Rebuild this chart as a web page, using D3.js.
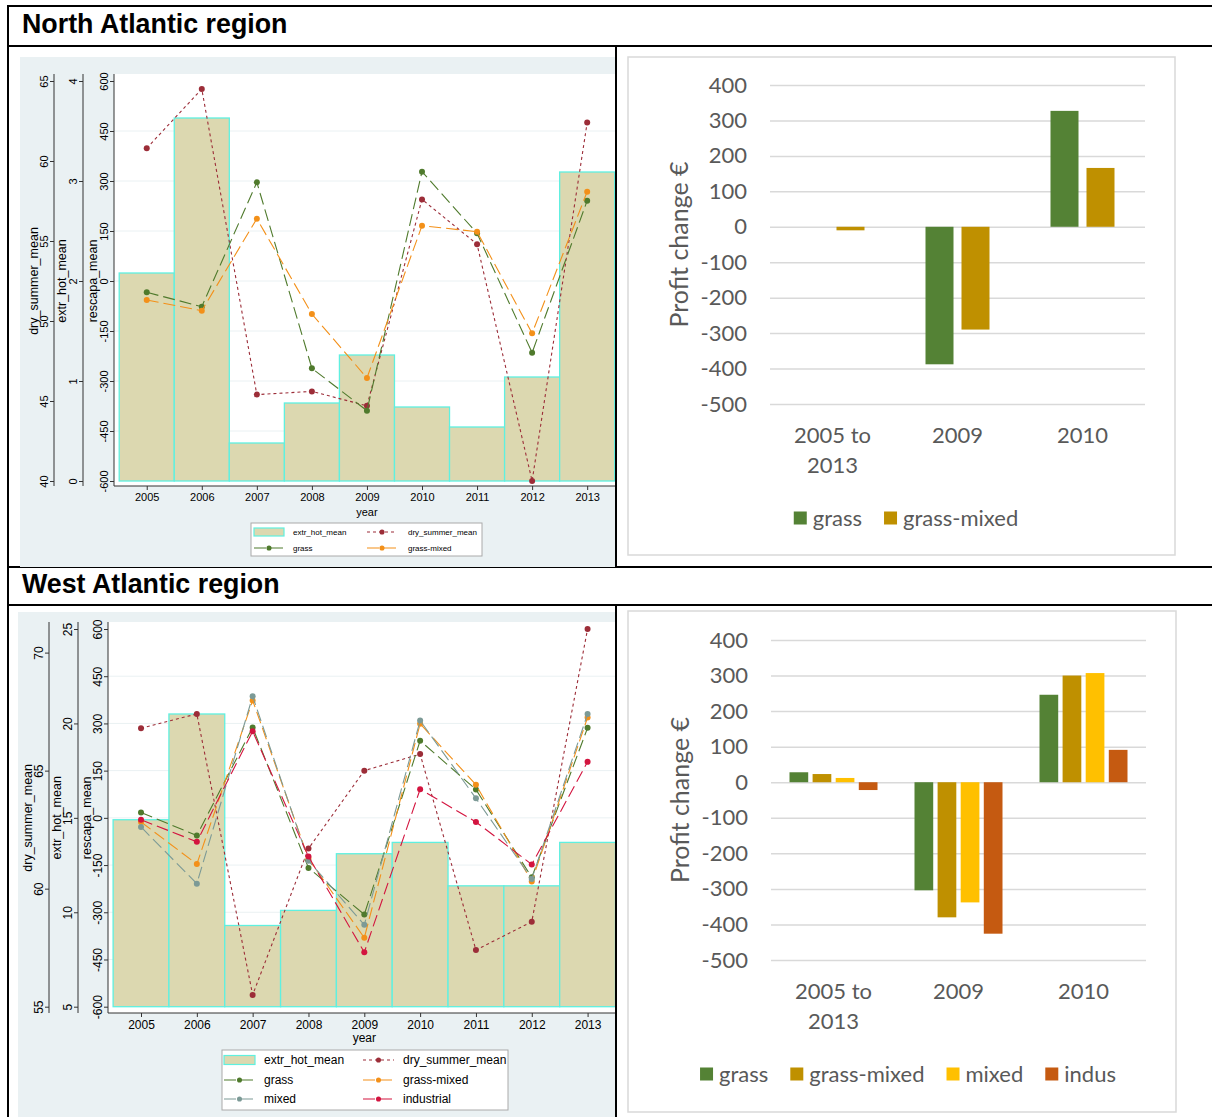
<!DOCTYPE html>
<html>
<head>
<meta charset="utf-8">
<script src="https://cdn.jsdelivr.net/npm/d3@7"></script>
<style>
  body { margin: 0; background: #fff; }
  svg { display: block; }
</style>
</head>
<body>
<svg id="chart" width="1212" height="1117"></svg>
<script>
// ---------- data ----------
const years = [2005, 2006, 2007, 2008, 2009, 2010, 2011, 2012, 2013];

// North Atlantic region
const naExtrHot    = [2.08, 3.63, 0.38, 0.78, 1.26, 0.74, 0.54, 1.04, 3.09];
const naDrySummer  = [60.8, 64.5, 45.4, 45.6, 44.7, 57.6, 54.8, 40.0, 62.4];
const naGrass      = [-34, -77, 296, -262, -389, 328, 143, -215, 241];
const naGrassMixed = [-57, -89, 187, -99, -291, 166, 148, -157, 268];

// West Atlantic region
const waExtrHot    = [14.9, 20.5, 9.3, 10.1, 13.1, 13.7, 11.4, 11.4, 13.7];
const waDrySummer  = [66.8, 67.4, 55.5, 61.7, 65.0, 65.7, 57.4, 58.6, 71.0];
const waGrass      = [17, -56, 287, -159, -307, 245, 90, -189, 286];
const waGrassMixed = [-13, -147, 373, -130, -381, 299, 105, -202, 319];
const waMixed      = [-29, -209, 386, -136, -340, 309, 62, -194, 330];
const waIndustrial = [-6, -76, 275, -123, -427, 91, -13, -148, 178];

// profit change per period
const periods = ["2005 to 2013", "2009", "2010"];
const naProfitGrass      = [0, -388, 327];
const naProfitGrassMixed = [-10, -290, 166];
const waProfitGrass      = [28, -304, 246];
const waProfitGrassMixed = [23, -380, 300];
const waProfitMixed      = [12, -338, 307];
const waProfitIndus      = [-22, -426, 91];

// tick values
const rescapaTicks = [-600, -450, -300, -150, 0, 150, 300, 450, 600];
const naExtrTicks  = [0, 1, 2, 3, 4];
const naDryTicks   = [40, 45, 50, 55, 60, 65];
const waExtrTicks  = [5, 10, 15, 20, 25];
const waDryTicks   = [55, 60, 65, 70];
const profitTicks  = [-500, -400, -300, -200, -100, 0, 100, 200, 300, 400];

// ---------- styles ----------
const stataFont = "'Liberation Sans', Arial, sans-serif";
const excelFont = "Lato, 'Open Sans', sans-serif";
const col = {
  bg: "#eaf1f3", barFill: "#dcd8b0", barEdge: "#5ff0e0",
  dry: "#9c2d38", grass: "#4f7a2c", grassMixed: "#f39019",
  mixed: "#7c9a96", industrial: "#d3143f"
};
const longDash = "12 5", shortDash = "3 3";
const plain = d => String(d);   // hyphen-minus for negative labels

const svg = d3.select("#chart");

// ---------- table frame ----------
function drawFrame() {
  const f = svg.append("g").attr("stroke", "#000").attr("stroke-width", 2);
  [[7, 6, 1212, 6], [7, 46, 1212, 46], [7, 567, 1212, 567], [7, 605, 1212, 605],
   [8, 6, 8, 1117], [616, 46, 616, 567], [616, 605, 616, 1117]]
    .forEach(([x1, y1, x2, y2]) => f.append("line").attr("x1", x1).attr("y1", y1).attr("x2", x2).attr("y2", y2));
  svg.append("text").attr("x", 22).attr("y", 33).attr("font-family", stataFont)
    .attr("font-weight", "bold").attr("font-size", 26.8).attr("fill", "#000").text("North Atlantic region");
  svg.append("text").attr("x", 22).attr("y", 593).attr("font-family", stataFont)
    .attr("font-weight", "bold").attr("font-size", 26.8).attr("fill", "#000").text("West Atlantic region");
}

// ---------- combined climate / profit panel ----------
function drawStata(cfg) {
  const clipId = cfg.id + "-clip";
  svg.append("clipPath").attr("id", clipId).append("rect")
    .attr("x", cfg.bg[0]).attr("y", cfg.bg[1])
    .attr("width", cfg.bg[2] - cfg.bg[0]).attr("height", cfg.bg[3] - cfg.bg[1]);
  const g = svg.append("g").attr("clip-path", `url(#${clipId})`);

  g.append("rect").attr("x", cfg.bg[0]).attr("y", cfg.bg[1])
    .attr("width", cfg.bg[2] - cfg.bg[0]).attr("height", cfg.bg[3] - cfg.bg[1]).attr("fill", col.bg);
  g.append("rect").attr("x", cfg.plot.left).attr("y", cfg.plot.top)
    .attr("width", cfg.bg[2] - cfg.plot.left).attr("height", cfg.plot.bottom - cfg.plot.top).attr("fill", "#fff");

  const x = d3.scaleLinear().domain([2004.5, 2013.5]).range(cfg.xRange);
  const yR = d3.scaleLinear().domain([-600, 600]).range(cfg.yRange);
  const yE = d3.scaleLinear().domain(cfg.extrDomain).range(cfg.yRange);
  const yD = d3.scaleLinear().domain(cfg.dryDomain).range(cfg.yRange);

  // gridlines on the rescapa axis
  g.append("g").selectAll("line").data(rescapaTicks.slice(1, -1)).join("line")
    .attr("x1", cfg.plot.left).attr("x2", cfg.bg[2])
    .attr("y1", d => yR(d)).attr("y2", d => yR(d))
    .attr("stroke", col.bg).attr("stroke-width", 1);

  // extr_hot_mean bars
  g.append("g").selectAll("rect").data(years).join("rect")
    .attr("x", d => x(d - 0.5)).attr("width", d => x(d + 0.5) - x(d - 0.5))
    .attr("y", (d, i) => yE(cfg.bars[i]))
    .attr("height", (d, i) => yE(cfg.extrDomain[0]) - yE(cfg.bars[i]))
    .attr("fill", col.barFill).attr("stroke", col.barEdge).attr("stroke-width", 1.3);

  // dry_summer_mean line, then the profit series
  const series = [{ values: cfg.dry, scale: yD, color: col.dry, dash: shortDash }]
    .concat(cfg.lines.map(l => ({ values: l.values, scale: yR, color: l.color, dash: longDash })));
  series.forEach(s => {
    const pts = years.map((yr, i) => [x(yr), s.scale(s.values[i])]);
    g.append("path").attr("d", d3.line()(pts)).attr("fill", "none")
      .attr("stroke", s.color).attr("stroke-width", 1.1).attr("stroke-dasharray", s.dash);
    g.append("g").selectAll("circle").data(pts).join("circle")
      .attr("cx", d => d[0]).attr("cy", d => d[1]).attr("r", cfg.markerR).attr("fill", s.color);
  });

  // y axes: dry_summer_mean, extr_hot_mean, rescapa_mean
  const axes = [
    { x: cfg.axisX.dry, scale: yD, ticks: cfg.dryTicks, title: "dry_summer_mean", titleX: cfg.titleX.dry },
    { x: cfg.axisX.extr, scale: yE, ticks: cfg.extrTicks, title: "extr_hot_mean", titleX: cfg.titleX.extr },
    { x: cfg.axisX.rescapa, scale: yR, ticks: rescapaTicks, title: "rescapa_mean", titleX: cfg.titleX.rescapa }
  ];
  const midY = (cfg.yRange[0] + cfg.yRange[1]) / 2;
  axes.forEach(a => {
    const ag = g.append("g").attr("transform", `translate(${a.x},0)`)
      .call(d3.axisLeft(a.scale).tickValues(a.ticks).tickSize(4).tickSizeOuter(0).tickFormat(plain));
    ag.select(".domain").remove();
    ag.selectAll(".tick line").attr("stroke", "#333");
    ag.selectAll(".tick text")
      .attr("x", null).attr("dy", null).attr("text-anchor", "middle")
      .attr("transform", "translate(-6,0) rotate(-90)")
      .attr("font-family", stataFont).attr("font-size", cfg.tickFont).attr("fill", "#000");
    ag.append("line").attr("x1", 0).attr("x2", 0).attr("y1", cfg.plot.top).attr("y2", cfg.plot.bottom)
      .attr("stroke", "#333").attr("stroke-width", 1);
    g.append("text").attr("transform", `translate(${a.titleX},${midY}) rotate(-90)`)
      .attr("text-anchor", "middle").attr("font-family", stataFont).attr("font-size", cfg.titleFont)
      .attr("fill", "#000").text(a.title);
  });

  // x axis
  const xg = g.append("g").attr("transform", `translate(0,${cfg.plot.bottom})`)
    .call(d3.axisBottom(x).tickValues(years).tickSize(4).tickSizeOuter(0).tickFormat(plain));
  xg.select(".domain").remove();
  xg.selectAll(".tick line").attr("stroke", "#333");
  xg.selectAll(".tick text").attr("font-family", stataFont).attr("font-size", cfg.tickFont).attr("fill", "#000");
  xg.append("line").attr("x1", cfg.plot.left).attr("x2", cfg.bg[2]).attr("stroke", "#333").attr("stroke-width", 1);
  g.append("text").attr("x", x(2009)).attr("y", cfg.yearY).attr("text-anchor", "middle")
    .attr("font-family", stataFont).attr("font-size", cfg.tickFont).attr("fill", "#000").text("year");

  // legend
  const L = cfg.legend;
  const lg = g.append("g");
  lg.append("rect").attr("x", L.box[0]).attr("y", L.box[1]).attr("width", L.box[2] - L.box[0])
    .attr("height", L.box[3] - L.box[1]).attr("fill", "#fff").attr("stroke", "#aaa").attr("stroke-width", 1);
  const entries = [{ name: "extr_hot_mean", bar: true }, { name: "dry_summer_mean", color: col.dry, dash: shortDash }]
    .concat(cfg.lines.map(l => ({ name: l.name, color: l.color, dash: longDash })));
  entries.forEach((e, i) => {
    const c = i % 2, r = Math.floor(i / 2);
    const cy = L.rows[r], sx = L.swatchX[c];
    if (e.bar) {
      lg.append("rect").attr("x", sx).attr("y", cy - L.swH / 2).attr("width", L.swW).attr("height", L.swH)
        .attr("fill", col.barFill).attr("stroke", col.barEdge).attr("stroke-width", 1.2);
    } else {
      lg.append("line").attr("x1", sx).attr("x2", sx + L.swW).attr("y1", cy).attr("y2", cy)
        .attr("stroke", e.color).attr("stroke-width", 1.1).attr("stroke-dasharray", e.dash);
      lg.append("circle").attr("cx", sx + L.swW / 2).attr("cy", cy).attr("r", cfg.markerR * 0.85).attr("fill", e.color);
    }
    lg.append("text").attr("x", L.textX[c]).attr("y", cy).attr("dy", "0.35em")
      .attr("font-family", stataFont).attr("font-size", L.font).attr("fill", "#000").text(e.name);
  });
}

// ---------- profit change bar panel ----------
function drawProfit(cfg) {
  const g = svg.append("g");
  g.append("rect").attr("x", cfg.panel[0]).attr("y", cfg.panel[1])
    .attr("width", cfg.panel[2] - cfg.panel[0]).attr("height", cfg.panel[3] - cfg.panel[1])
    .attr("fill", "#fff").attr("stroke", "#d9d9d9").attr("stroke-width", 1.5);

  const y = d3.scaleLinear().domain([-500, 400]).range(cfg.yRange);
  const x0 = d3.scaleBand().domain(periods).range(cfg.xRange);
  const x1 = d3.scaleBand().domain(cfg.series.map(s => s.name))
    .range([-cfg.groupW / 2, cfg.groupW / 2]).paddingInner(cfg.innerPad);

  const ag = g.append("g").attr("transform", `translate(${cfg.xRange[0]},0)`)
    .call(d3.axisLeft(y).tickValues(profitTicks).tickFormat(plain)
      .tickSize(-(cfg.xRange[1] - cfg.xRange[0])).tickPadding(23).tickSizeOuter(0));
  ag.select(".domain").remove();
  ag.selectAll(".tick line").attr("stroke", "#d9d9d9").attr("stroke-width", 1.5);
  ag.selectAll(".tick text").attr("font-family", excelFont).attr("font-size", 22).attr("fill", "#595959");

  cfg.series.forEach(s => {
    g.append("g").selectAll("rect").data(periods).join("rect")
      .attr("x", d => x0(d) + x0.bandwidth() / 2 + x1(s.name))
      .attr("width", x1.bandwidth())
      .attr("y", (d, i) => y(Math.max(0, s.values[i])))
      .attr("height", (d, i) => Math.abs(y(s.values[i]) - y(0)))
      .attr("fill", s.color);
  });

  // category labels, wrapped before the last word when long
  periods.forEach(p => {
    const words = p.split(" ");
    const lines = words.length > 1 ? [words.slice(0, -1).join(" "), words[words.length - 1]] : [p];
    lines.forEach((t, k) => {
      g.append("text").attr("x", x0(p) + x0.bandwidth() / 2).attr("y", cfg.catY + k * 30).attr("dy", "0.35em")
        .attr("text-anchor", "middle").attr("font-family", excelFont).attr("font-size", 22)
        .attr("fill", "#595959").text(t);
    });
  });

  g.append("text")
    .attr("transform", `translate(${cfg.yTitleX},${(cfg.yRange[0] + cfg.yRange[1]) / 2}) rotate(-90)`)
    .attr("text-anchor", "middle").attr("font-family", excelFont).attr("font-size", 25)
    .attr("fill", "#595959").text("Profit change €");

  // legend, centred in the panel
  const lg = g.append("g");
  let cx = 0;
  const items = cfg.series.map(s => {
    const t = lg.append("text").attr("y", cfg.legendY).attr("dy", "0.35em")
      .attr("font-family", excelFont).attr("font-size", 22).attr("fill", "#595959").text(s.name);
    const w = t.node().getComputedTextLength();
    const it = { s, t, x: cx, w };
    cx += 13 + 6 + w + 22;
    return it;
  });
  const total = cx - 22;
  const start = cfg.legendCx - total / 2;
  items.forEach(it => {
    lg.append("rect").attr("x", start + it.x).attr("y", cfg.legendY - 6.5).attr("width", 13).attr("height", 13)
      .attr("fill", it.s.color);
    it.t.attr("x", start + it.x + 19);
  });
}

drawFrame();

drawStata({
  id: "na",
  bg: [20, 57, 615, 567],
  plot: { left: 114, top: 74, bottom: 486 },
  xRange: [119.2, 614.7],
  yRange: [481, 81],
  extrDomain: [0, 4], dryDomain: [40, 65],
  extrTicks: naExtrTicks, dryTicks: naDryTicks,
  axisX: { dry: 54, extr: 83, rescapa: 114 },
  titleX: { dry: 38, extr: 66, rescapa: 97 },
  tickFont: 11, titleFont: 12.5, markerR: 3,
  yearY: 516,
  bars: naExtrHot, dry: naDrySummer,
  lines: [
    { name: "grass", values: naGrass, color: col.grass },
    { name: "grass-mixed", values: naGrassMixed, color: col.grassMixed }
  ],
  legend: {
    box: [251, 523, 482, 556], rows: [532, 548], swatchX: [254, 367], swW: 30, swH: 8,
    textX: [293, 408], font: 8
  }
});

drawStata({
  id: "wa",
  bg: [18, 612, 615, 1117],
  plot: { left: 108, top: 622, bottom: 1013 },
  xRange: [113.1, 615.5],
  yRange: [1006.7, 629],
  extrDomain: [5, 25], dryDomain: [55, 71],
  extrTicks: waExtrTicks, dryTicks: waDryTicks,
  axisX: { dry: 49, extr: 78, rescapa: 108 },
  titleX: { dry: 32, extr: 61, rescapa: 91 },
  tickFont: 12, titleFont: 12.5, markerR: 3,
  yearY: 1042,
  bars: waExtrHot, dry: waDrySummer,
  lines: [
    { name: "grass", values: waGrass, color: col.grass },
    { name: "grass-mixed", values: waGrassMixed, color: col.grassMixed },
    { name: "mixed", values: waMixed, color: col.mixed },
    { name: "industrial", values: waIndustrial, color: col.industrial }
  ],
  legend: {
    box: [222, 1050, 508, 1110], rows: [1060, 1080, 1099], swatchX: [224, 363], swW: 31, swH: 9,
    textX: [264, 403], font: 12
  }
});

drawProfit({
  panel: [628, 57, 1175, 555],
  yRange: [404, 85], xRange: [770, 1145],
  groupW: 64, innerPad: 8 / 36,
  catY: 435, legendY: 518, legendCx: 906, yTitleX: 688,
  series: [
    { name: "grass", values: naProfitGrass, color: "#548235" },
    { name: "grass-mixed", values: naProfitGrassMixed, color: "#bf9000" }
  ]
});

drawProfit({
  panel: [628, 611, 1176, 1112],
  yRange: [960, 640], xRange: [771, 1146],
  groupW: 88, innerPad: 0.19,
  catY: 991, legendY: 1074, legendCx: 908, yTitleX: 689,
  series: [
    { name: "grass", values: waProfitGrass, color: "#548235" },
    { name: "grass-mixed", values: waProfitGrassMixed, color: "#bf9000" },
    { name: "mixed", values: waProfitMixed, color: "#ffc000" },
    { name: "indus", values: waProfitIndus, color: "#c55a11" }
  ]
});
</script>
</body>
</html>
